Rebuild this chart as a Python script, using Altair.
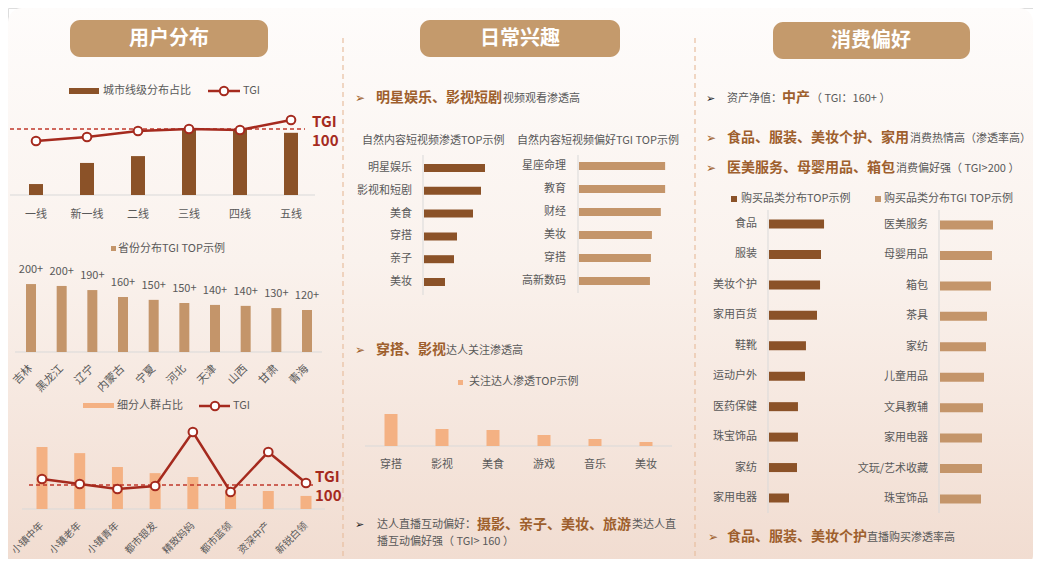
import altair as alt
import pandas as pd

OX, OY = 8, 8
W, H = 1025, 551


def px(x):
    return x - OX


def py(y):
    return y - OY


FONT = "Noto Sans CJK SC"
ARROWFONT = "DejaVu Sans"
BROWN = "#8b5228"
TAN = "#c4956a"
PEACH = "#f4b183"
RED = "#a52a1e"
GRAY = "#595959"
HEAD = "#9e5f2d"
PILL = "#c49a6c"
AXIS = "#d9d9d9"
DIV = "#e8bfa0"

# ---------------- data ----------------
city_cats = ["一线", "新一线", "二线", "三线", "四线", "五线"]
city_share = [4.0, 11.7, 14.2, 23.7, 23.7, 22.7]
city_tgi = [76, 84, 96, 100, 98, 118]

prov_cats = ["吉林", "黑龙江", "辽宁", "内蒙古", "宁夏", "河北", "天津", "山西", "甘肃", "青海"]
prov_tgi = [215, 209, 196, 174, 165, 155, 149, 146, 139, 133]
prov_labels = ["200+", "200+", "190+", "160+", "150+", "150+", "140+", "140+", "130+", "120+"]

crowd_cats = ["小镇中年", "小镇老年", "小镇青年", "都市银发", "精致妈妈", "都市蓝领", "资深中产", "新锐白领"]
crowd_share = [22.3, 20.1, 15.1, 12.9, 11.5, 6.8, 6.5, 4.7]
crowd_tgi = [112, 102, 92, 98, 206, 86, 166, 104]

video_cats = ["明星娱乐", "影视和短剧", "美食", "穿搭", "亲子", "美妆"]
video_pen = [30.5, 28.5, 24.5, 16.5, 15.0, 10.5]
video_tgi_cats = ["星座命理", "教育", "财经", "美妆", "穿搭", "高新数码"]
video_tgi = [261, 261, 248, 221, 218, 215]

kol_cats = ["穿搭", "影视", "美食", "游戏", "音乐", "美妆"]
kol_pen = [16.0, 8.5, 8.0, 5.5, 3.5, 2.0]

buy_cats = ["食品", "服装", "美妆个护", "家用百货", "鞋靴", "运动户外", "医药保健", "珠宝饰品", "家纺", "家用电器"]
buy_pen = [34.4, 32.5, 31.9, 30.0, 23.1, 22.5, 18.1, 18.1, 17.5, 12.5]
buy_tgi_cats = ["医美服务", "母婴用品", "箱包", "茶具", "家纺", "儿童用品", "文具教辅", "家用电器", "文玩/艺术收藏", "珠宝饰品"]
buy_tgi = [265, 260, 255, 235, 230, 220, 215, 210, 210, 205]

one = pd.DataFrame({"k": [0]})


# ---------------- helpers ----------------
def text(x, y, s, size=11, color=GRAY, weight="normal", align="left", font=FONT):
    return alt.Chart(one).mark_text(
        text=s, fontSize=size, color=color, fontWeight=weight, align=align,
        baseline="middle", font=font
    ).encode(x=alt.value(px(x)), y=alt.value(py(y)))


def rect(x1, y1, x2, y2, color, r=0):
    return alt.Chart(one).mark_rect(color=color, cornerRadius=r).encode(
        x=alt.value(px(x1)), x2=alt.value(px(x2)), y=alt.value(py(y1)), y2=alt.value(py(y2)))


def hline(x1, x2, y, color, width=1.0, dash=None):
    kw = dict(color=color, strokeWidth=width)
    if dash:
        kw["strokeDash"] = dash
    return alt.Chart(one).mark_rule(**kw).encode(
        x=alt.value(px(x1)), x2=alt.value(px(x2)), y=alt.value(py(y)))


def vline(x, y1, y2, color, width=1.0, dash=None):
    kw = dict(color=color, strokeWidth=width)
    if dash:
        kw["strokeDash"] = dash
    return alt.Chart(one).mark_rule(**kw).encode(
        x=alt.value(px(x)), y=alt.value(py(y1)), y2=alt.value(py(y2)))


def dot(x, y):
    return alt.Chart(one).mark_point(
        shape="circle", filled=True, fill="white", stroke=RED, strokeWidth=2, size=70, opacity=1
    ).encode(x=alt.value(px(x)), y=alt.value(py(y)))


def hbar(cats, vals, color, axis_x, y0, y1, k, label_x, size, ay0, ay1):
    df = pd.DataFrame({"cat": cats, "v": vals})
    ysc = alt.Y("cat:N", sort=None, axis=None,
                scale=alt.Scale(type="point", range=[py(y0), py(y1)], padding=0))
    maxv = max(vals) * 1.3
    xsc = alt.X("v:Q", axis=None,
                scale=alt.Scale(domain=[0, maxv], range=[px(axis_x) + 1, px(axis_x) + 1 + maxv * k],
                                nice=False, zero=True))
    bars = alt.Chart(df).mark_bar(size=size, color=color).encode(x=xsc, y=ysc)
    labels = alt.Chart(df).mark_text(align="right", baseline="middle", fontSize=11,
                                     color=GRAY, font=FONT).encode(
        y=ysc, x=alt.value(px(label_x)), text="cat:N")
    return alt.layer(vline(axis_x, ay0, ay1, AXIS), bars, labels)


def xpoint(x0, x1):
    return alt.X("cat:N", sort=None, axis=None,
                 scale=alt.Scale(type="point", range=[px(x0), px(x1)], padding=0))


def rotated_labels(df, xs, y, size=11):
    return alt.Chart(df).mark_text(angle=315, align="right", baseline="middle",
                                   fontSize=size, color=GRAY, font=FONT).encode(
        x=xs, y=alt.value(py(y)), text="cat:N")


def tgi_layer(df, xs, y100, k, x1, x2):
    # TGI scale: 100 sits at pixel y100, k px per TGI point
    sc = alt.Scale(domain=[0, 300], range=[py(y100) + 100 * k, py(y100) - 200 * k],
                   nice=False, zero=False)
    ysc = alt.Y("tgi:Q", axis=None, scale=sc)
    line = alt.Chart(df).mark_line(color=RED, strokeWidth=2.5).encode(x=xs, y=ysc)
    pts = alt.Chart(df).mark_point(shape="circle", filled=True, fill="white", stroke=RED,
                                   strokeWidth=2, size=75, opacity=1).encode(x=xs, y=ysc)
    ref = alt.Chart(one).mark_rule(color="#c0392b", strokeWidth=1.5, strokeDash=[4, 3]).encode(
        y=alt.Y(datum=100, scale=sc, axis=None),
        x=alt.value(px(x1)), x2=alt.value(px(x2)))
    return alt.layer(ref, line, pts)


# ---------------- background ----------------
grad = alt.LinearGradient(
    gradient="linear",
    stops=[alt.GradientStop(color="#fefcfb", offset=0),
           alt.GradientStop(color="#faf2ed", offset=0.45),
           alt.GradientStop(color="#f1dcd0", offset=1)],
    x1=0, x2=0, y1=0, y2=1)
bg = alt.Chart(one).mark_rect(fill=grad, cornerRadius=14).encode(
    x=alt.value(0), x2=alt.value(W), y=alt.value(0), y2=alt.value(H + 10))

decor = [
    # dividers
    vline(343, 38, 570, DIV, 1.2, [5, 4]),
    vline(695, 38, 570, DIV, 1.2, [5, 4]),
    # pills
    rect(70, 20, 268, 57, PILL, 10), text(169, 39, "用户分布", 20, "white", "bold", "center"),
    rect(420, 20, 620, 57, PILL, 10), text(520, 39, "日常兴趣", 20, "white", "bold", "center"),
    rect(773, 22, 970, 59, PILL, 10), text(871, 41, "消费偏好", 20, "white", "bold", "center"),
    # col1 legends
    rect(69, 88, 99, 94, BROWN), text(103, 91, "城市线级分布占比"),
    hline(208, 240, 91, RED, 2.5), dot(224, 91), text(243, 91, "TGI"),
    text(312, 122, "TGI", 15, RED, "bold"), text(312, 141, "100", 15, RED, "bold"),
    rect(111, 246, 116, 251, TAN), text(118, 249, "省份分布TGI TOP示例"),
    rect(83, 403, 114, 408, PEACH), text(117, 406, "细分人群占比"),
    hline(199, 230, 406, RED, 2.5), dot(215, 406), text(233, 406, "TGI"),
    text(315, 477, "TGI", 15, RED, "bold"), text(315, 496, "100", 15, RED, "bold"),
    # col2 texts
    text(355, 98, "➢", 12, HEAD, font=ARROWFONT),
    text(376, 98, "明星娱乐、影视短剧", 14, HEAD, "bold"), text(503, 99, "视频观看渗透高"),
    text(362, 141, "自然内容短视频渗透TOP示例"), text(517, 141, "自然内容短视频偏好TGI TOP示例"),
    text(355, 350, "➢", 12, HEAD, font=ARROWFONT),
    text(376, 350, "穿搭、影视", 14, HEAD, "bold"), text(446, 351, "达人关注渗透高"),
    rect(458, 380, 463, 385, PEACH), text(469, 382, "关注达人渗透TOP示例"),
    text(355, 525, "➢", 11, "#222222", font=ARROWFONT),
    text(377, 525, "达人直播互动偏好："), text(477, 525, "摄影、亲子、美妆、旅游", 14, HEAD, "bold"),
    text(632, 525, "类达人直"), text(377, 542, "播互动偏好强（ TGI> 160 ）"),
    # col3 texts
    text(706, 99, "➢", 11, "#222222", font=ARROWFONT),
    text(727, 99, "资产净值："), text(782, 98, "中产", 14, HEAD, "bold"), text(811, 99, "（ TGI：160+ ）"),
    text(706, 138, "➢", 12, HEAD, font=ARROWFONT),
    text(727, 138, "食品、服装、美妆个护、家用", 14, HEAD, "bold"), text(910, 139, "消费热情高（渗透率高）"),
    text(706, 168, "➢", 12, HEAD, font=ARROWFONT),
    text(727, 168, "医美服务、母婴用品、箱包", 14, HEAD, "bold"), text(896, 169, "消费偏好强（ TGI>200 ）"),
    rect(731, 196, 737, 202, BROWN), text(741, 199, "购买品类分布TOP示例"),
    rect(875, 196, 881, 202, TAN), text(884, 199, "购买品类分布TGI TOP示例"),
    text(708, 537, "➢", 12, HEAD, font=ARROWFONT),
    text(727, 537, "食品、服装、美妆个护", 14, HEAD, "bold"), text(867, 538, "直播购买渗透率高"),
]

# ---------------- city chart ----------------
city_df = pd.DataFrame({"cat": city_cats, "share": city_share, "tgi": city_tgi})
cx = xpoint(36, 291)
city_bars = alt.Chart(city_df).mark_bar(size=14, color=BROWN).encode(
    x=cx, y=alt.Y("share:Q", axis=None,
                  scale=alt.Scale(domain=[0, 30], range=[py(195), py(195) - 30 * 2.74], nice=False)))
city_lab = alt.Chart(city_df).mark_text(fontSize=11, color=GRAY, font=FONT, baseline="middle").encode(
    x=cx, y=alt.value(py(215)), text="cat:N")
city = alt.layer(
    alt.layer(hline(10, 315, 195, AXIS), city_bars, city_lab),
    tgi_layer(city_df, cx, 129, 0.5, 10, 305),
).resolve_scale(y="independent")

# ---------------- province chart ----------------
prov_df = pd.DataFrame({"cat": prov_cats, "tgi": prov_tgi, "lab": prov_labels})
pxs = xpoint(31, 307)
pys = alt.Y("tgi:Q", axis=None,
            scale=alt.Scale(domain=[0, 250], range=[py(352), py(352) - 250 * 0.316], nice=False))
prov = alt.layer(
    hline(15, 322, 352, AXIS),
    alt.Chart(prov_df).mark_bar(size=10, color=TAN).encode(x=pxs, y=pys),
    alt.Chart(prov_df).mark_text(dy=-14, fontSize=11, color=GRAY, font=FONT).encode(
        x=pxs, y=pys, text="lab:N"),
    rotated_labels(prov_df, pxs, 367),
)

# ---------------- crowd chart ----------------
crowd_df = pd.DataFrame({"cat": crowd_cats, "share": crowd_share, "tgi": crowd_tgi})
crx = xpoint(42, 306)
crowd_bars = alt.Chart(crowd_df).mark_bar(size=11, color=PEACH).encode(
    x=crx, y=alt.Y("share:Q", axis=None,
                   scale=alt.Scale(domain=[0, 30], range=[py(509), py(509) - 30 * 2.78], nice=False)))
crowd = alt.layer(
    alt.layer(hline(22, 325, 509, AXIS), crowd_bars, rotated_labels(crowd_df, crx, 524, 10)),
    tgi_layer(crowd_df, crx, 485, 0.5, 29, 313),
).resolve_scale(y="independent")

# ---------------- column 2 charts ----------------
vid_l = hbar(video_cats, video_pen, BROWN, 423, 168, 282, 2.0, 412, 8, 155, 295)
vid_r = hbar(video_tgi_cats, video_tgi, TAN, 578, 166, 281, 0.33, 566, 8, 155, 293)

kol_df = pd.DataFrame({"cat": kol_cats, "v": kol_pen})
kx = xpoint(391, 646)
kol = alt.layer(
    hline(365, 672, 446, AXIS),
    alt.Chart(kol_df).mark_bar(size=13, color=PEACH).encode(
        x=kx, y=alt.Y("v:Q", axis=None,
                      scale=alt.Scale(domain=[0, 20], range=[py(446), py(446) - 40], nice=False))),
    alt.Chart(kol_df).mark_text(fontSize=11, color=GRAY, font=FONT, baseline="middle").encode(
        x=kx, y=alt.value(py(465)), text="cat:N"),
)

# ---------------- column 3 charts ----------------
buy_l = hbar(buy_cats, buy_pen, BROWN, 768, 224, 498, 1.6, 757, 9, 210, 513)
buy_r = hbar(buy_tgi_cats, buy_tgi, TAN, 939, 225, 499, 0.2, 928, 9, 210, 513)

chart = alt.layer(
    bg, *decor, city, prov, crowd, vid_l, vid_r, kol, buy_l, buy_r
).resolve_scale(
    x="independent", y="independent"
).properties(
    width=W, height=H, padding=0,
    autosize=alt.AutoSizeParams(type="none"),
    background="#ffffff",
).configure_view(stroke=None).configure(font=FONT)

chart.save("out.html", embed_options={"renderer": "svg", "actions": False})
